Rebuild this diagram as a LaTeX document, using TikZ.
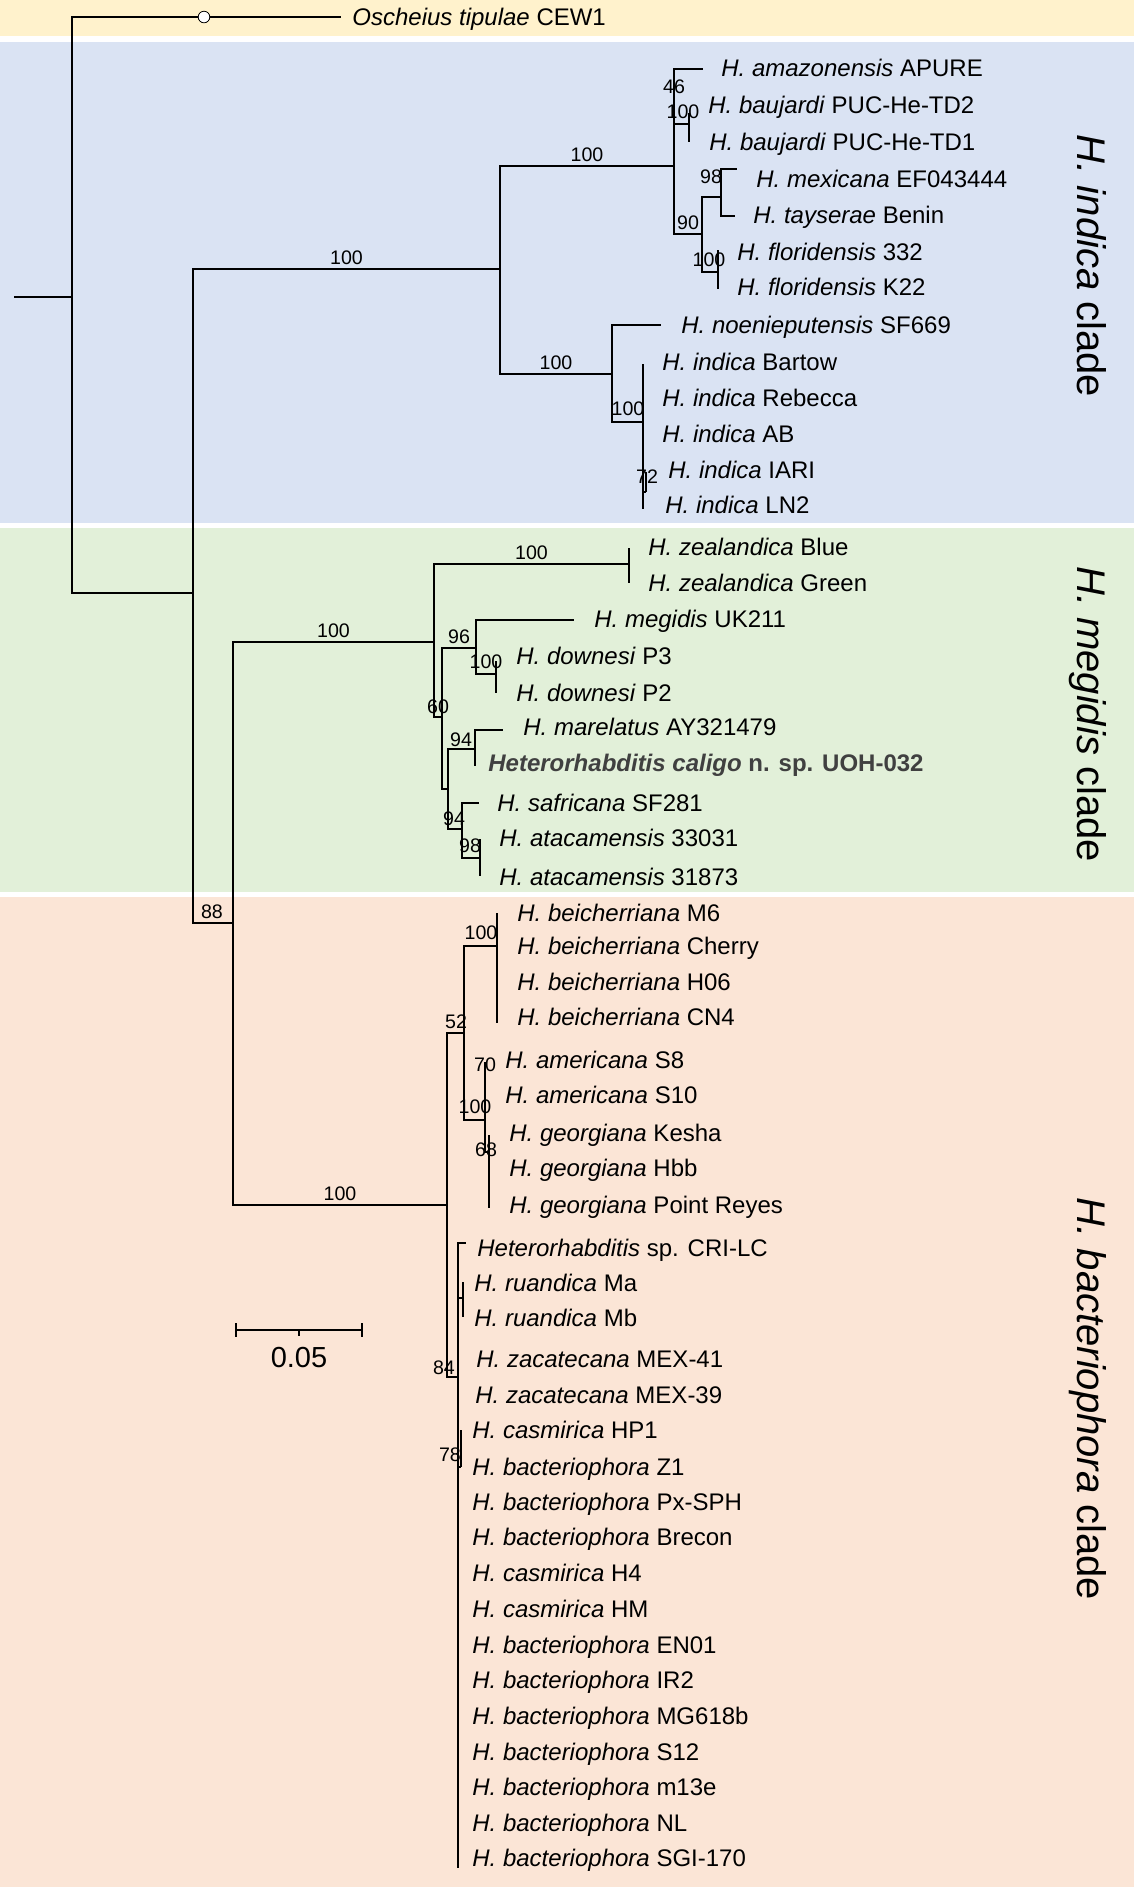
\documentclass[tikz,border=0pt]{standalone}
\usepackage{fontspec}
\setmainfont{Liberation Sans}
\usepackage{tikz}
\usetikzlibrary{positioning}
\definecolor{bandyellow}{HTML}{FFF2CC}
\definecolor{bandblue}{HTML}{DAE3F3}
\definecolor{bandgreen}{HTML}{E2F0D9}
\definecolor{bandpink}{HTML}{FBE5D6}
\definecolor{newsp}{HTML}{404040}

\begin{document}
\begin{tikzpicture}[x=0.5pt,y=-0.5pt]
	\tikzstyle{branch} = [line width=0.7pt]
	\tikzstyle{leaf} = [anchor=west, inner sep=0pt, text height=8.6pt, text depth=0pt, font=\fontsize{12}{14}\selectfont]
	\tikzstyle{boot} = [inner sep=0pt, font=\fontsize{9.8}{11}\selectfont]
	\tikzstyle{clade} = [rotate=-90, inner sep=0pt, text height=14.3pt, text depth=0pt, font=\fontsize{20}{24}\selectfont]
	\tikzstyle{scalebar} = [line width=1.3pt]

	% clade bands
	\fill[white] (0,0) rectangle (1134,1887);
	\fill[bandyellow] (0,0) rectangle (1134,36);
	\fill[bandblue] (0,42) rectangle (1134,523);
	\fill[bandgreen] (0,528) rectangle (1134,892);
	\fill[bandpink] (0,897) rectangle (1134,1887);

	% internal nodes
	\coordinate (stub) at (14,297);
	\coordinate (root) at (72,297);
	\coordinate (ing) at (193,593);
	\coordinate (ind) at (500,269);
	\coordinate (indA) at (674,166);
	\coordinate (bau) at (689,124);
	\coordinate (n90) at (702,234);
	\coordinate (n98) at (721,197);
	\coordinate (flo) at (718,272);
	\coordinate (indB) at (612,374);
	\coordinate (indS) at (643,422);
	\coordinate (n72) at (646,492);
	\coordinate (n88) at (233,923);
	\coordinate (meg) at (434,642);
	\coordinate (zea) at (629,564);
	\coordinate (n60) at (442,717);
	\coordinate (n96) at (476,648);
	\coordinate (dow) at (496,674);
	\coordinate (low) at (448,789);
	\coordinate (n94a) at (475,749);
	\coordinate (n94b) at (462,829);
	\coordinate (ata) at (480,858);
	\coordinate (bac) at (447,1205);
	\coordinate (n52) at (464,1033);
	\coordinate (bei) at (497,946);
	\coordinate (amg) at (485,1120);
	\coordinate (geo) at (489,1152);
	\coordinate (n84) at (458,1377);
	\coordinate (rua) at (463,1298);
	\coordinate (n78) at (461,1467);

	% tip ends
	\coordinate (out) at (341,17);
	\coordinate (amaz) at (703,69);
	\coordinate (bau2) at (689,113);
	\coordinate (bau1) at (689,142);
	\coordinate (mex) at (737,169);
	\coordinate (tay) at (735,216);
	\coordinate (flo1) at (718,250);
	\coordinate (flo2) at (718,289);
	\coordinate (noe) at (661,325);
	\coordinate (bart) at (643,364);
	\coordinate (iari) at (646,472);
	\coordinate (ln2) at (643,509);
	\coordinate (zb) at (629,548);
	\coordinate (zg) at (629,583);
	\coordinate (megi) at (574,620);
	\coordinate (p3) at (496,661);
	\coordinate (p2) at (496,693);
	\coordinate (mar) at (503,730);
	\coordinate (cal) at (475,766);
	\coordinate (saf) at (479,803);
	\coordinate (at1) at (480,839);
	\coordinate (at2) at (480,876);
	\coordinate (m6) at (497,913);
	\coordinate (cn4) at (497,1023);
	\coordinate (s8) at (485,1062);
	\coordinate (kes) at (489,1135);
	\coordinate (pr) at (489,1208);
	\coordinate (cri) at (466,1243);
	\coordinate (ma) at (463,1282);
	\coordinate (mb) at (463,1317);
	\coordinate (hp1) at (461,1430);
	\coordinate (sgi) at (458,1868);

	% branches
	\draw [branch] (stub) -- (root);
	\draw [branch] (root) |- (out) (root) |- (ing);
	\draw [branch] (ing) |- node[boot, above=2pt, pos=0.75]{100} (ind);
	\draw [branch] (ing) |- (n88);
	\draw [branch] (ind) |- node[boot, above=2pt, pos=0.75]{100} (indA);
	\draw [branch] (ind) |- node[boot, above=2pt, pos=0.75]{100} (indB);
	\draw [branch] (indA) |- (amaz) (indA) |- (bau) (indA) |- (n90);
	\draw [branch] (bau) |- (bau2) (bau) |- (bau1);
	\draw [branch] (n90) |- (n98) (n90) |- (flo);
	\draw [branch] (n98) |- (mex) (n98) |- (tay);
	\draw [branch] (flo) |- (flo1) (flo) |- (flo2);
	\draw [branch] (indB) |- (noe) (indB) |- (indS);
	\draw [branch] (indS) |- (bart) (indS) |- (ln2) (indS) |- (n72);
	\draw [branch] (n72) |- (iari);
	\draw [branch] (n88) |- node[boot, above=2pt, pos=0.75]{100} (meg);
	\draw [branch] (n88) |- node[boot, above=2pt, pos=0.75]{100} (bac);
	\draw [branch] (meg) |- node[boot, above=2pt, pos=0.75]{100} (zea);
	\draw [branch] (meg) |- (n60);
	\draw [branch] (zea) |- (zb) (zea) |- (zg);
	\draw [branch] (n60) |- (n96) (n60) |- (low);
	\draw [branch] (n96) |- (megi) (n96) |- (dow);
	\draw [branch] (dow) |- (p3) (dow) |- (p2);
	\draw [branch] (low) |- (n94a) (low) |- (n94b);
	\draw [branch] (n94a) |- (mar) (n94a) |- (cal);
	\draw [branch] (n94b) |- (saf) (n94b) |- (ata);
	\draw [branch] (ata) |- (at1) (ata) |- (at2);
	\draw [branch] (bac) |- (n52) (bac) |- (n84);
	\draw [branch] (n52) |- (bei) (n52) |- (amg);
	\draw [branch] (bei) |- (m6) (bei) |- (cn4);
	\draw [branch] (amg) |- (s8) (amg) |- (geo);
	\draw [branch] (geo) |- (kes) (geo) |- (pr);
	\draw [branch] (n84) |- (cri) (n84) |- (rua) (n84) |- (n78) (n84) |- (sgi);
	\draw [branch] (rua) |- (ma) (rua) |- (mb);
	\draw [branch] (n78) |- (hp1);

	\node [circle, draw, fill=white, inner sep=0pt, minimum size=5.8pt, line width=0.4pt] (og) at (204,17) {};

	% node support
	\node [boot] (b46) at (674,87) {46};
	\node [boot] (bbau) at (683,112) {100};
	\node [boot] (b98) at (711,177) {98};
	\node [boot] (b90) at (688,223) {90};
	\node [boot] (bflo) at (709,260) {100};
	\node [boot] (bind) at (628,409) {100};
	\node [boot] (b72) at (647,477) {72};
	\node [boot] (b60) at (438,707) {60};
	\node [boot] (b96) at (459,637) {96};
	\node [boot] (bdow) at (486,662) {100};
	\node [boot] (b94a) at (461,740) {94};
	\node [boot] (b94b) at (454,819) {94};
	\node [boot] (bata) at (470,846) {98};
	\node [boot] (b88) at (212,912) {88};
	\node [boot] (b52) at (456,1022) {52};
	\node [boot] (bbei) at (481,933) {100};
	\node [boot] (b70) at (485,1065) {70};
	\node [boot] (bamg) at (475,1107) {100};
	\node [boot] (b68) at (486,1150) {68};
	\node [boot] (b84) at (444,1368) {84};
	\node [boot] (b78) at (450,1455) {78};

	% taxa
	\node [leaf] (l_out) at (352,17) {\textit{Oscheius tipulae} CEW1};
	\node [leaf] (l_amaz) at (721,68) {\textit{H. amazonensis} APURE};
	\node [leaf] (l_bau2) at (708,105) {\textit{H. baujardi} PUC-He-TD2};
	\node [leaf] (l_bau1) at (709,142) {\textit{H. baujardi} PUC-He-TD1};
	\node [leaf] (l_mex) at (756,179) {\textit{H. mexicana} EF043444};
	\node [leaf] (l_tay) at (753,215) {\textit{H. tayserae} Benin};
	\node [leaf] (l_flo1) at (737,252) {\textit{H. floridensis} 332};
	\node [leaf] (l_flo2) at (737,287) {\textit{H. floridensis} K22};
	\node [leaf] (l_noe) at (681,325) {\textit{H. noenieputensis} SF669};
	\node [leaf] (l_bart) at (662,362) {\textit{H. indica} Bartow};
	\node [leaf] (l_reb) at (662,398) {\textit{H. indica} Rebecca};
	\node [leaf] (l_ab) at (662,434) {\textit{H. indica} AB};
	\node [leaf] (l_iari) at (668,470) {\textit{H. indica} IARI};
	\node [leaf] (l_ln2) at (665,505) {\textit{H. indica} LN2};
	\node [leaf] (l_zb) at (648,547) {\textit{H. zealandica} Blue};
	\node [leaf] (l_zg) at (648,583) {\textit{H. zealandica} Green};
	\node [leaf] (l_megi) at (594,619) {\textit{H. megidis} UK211};
	\node [leaf] (l_p3) at (516,656) {\textit{H. downesi} P3};
	\node [leaf] (l_p2) at (516,693) {\textit{H. downesi} P2};
	\node [leaf] (l_mar) at (523,727) {\textit{H. marelatus} AY321479};
	\node [leaf, text=newsp] (l_cal) at (488,763) {\textbf{\textit{Heterorhabditis caligo}} \textbf{n. sp. UOH-032}};
	\node [leaf] (l_saf) at (497,803) {\textit{H. safricana} SF281};
	\node [leaf] (l_at1) at (499,838) {\textit{H. atacamensis} 33031};
	\node [leaf] (l_at2) at (499,877) {\textit{H. atacamensis} 31873};
	\node [leaf] (l_m6) at (517,913) {\textit{H. beicherriana} M6};
	\node [leaf] (l_ch) at (517,946) {\textit{H. beicherriana} Cherry};
	\node [leaf] (l_h06) at (517,982) {\textit{H. beicherriana} H06};
	\node [leaf] (l_cn4) at (517,1017) {\textit{H. beicherriana} CN4};
	\node [leaf] (l_s8) at (505,1060) {\textit{H. americana} S8};
	\node [leaf] (l_s10) at (505,1095) {\textit{H. americana} S10};
	\node [leaf] (l_kes) at (509,1133) {\textit{H. georgiana} Kesha};
	\node [leaf] (l_hbb) at (509,1168) {\textit{H. georgiana} Hbb};
	\node [leaf] (l_pr) at (509,1205) {\textit{H. georgiana} Point Reyes};
	\node [leaf] (l_cri) at (477,1248) {\textit{Heterorhabditis} sp. CRI-LC};
	\node [leaf] (l_ma) at (474,1283) {\textit{H. ruandica} Ma};
	\node [leaf] (l_mb) at (474,1318) {\textit{H. ruandica} Mb};
	\node [leaf] (l_m41) at (476,1359) {\textit{H. zacatecana} MEX-41};
	\node [leaf] (l_m39) at (475,1395) {\textit{H. zacatecana} MEX-39};
	\foreach \y/\epi/\strain [count=\i] in {1430/casmirica/HP1, 1467/bacteriophora/Z1, 1502/bacteriophora/Px-SPH, 1537/bacteriophora/Brecon, 1573/casmirica/H4, 1609/casmirica/HM, 1645/bacteriophora/EN01, 1680/bacteriophora/IR2, 1716/bacteriophora/MG618b, 1752/bacteriophora/S12, 1787/bacteriophora/m13e, 1823/bacteriophora/NL, 1858/bacteriophora/SGI-170}
		\node [leaf] (l_b\i) at (472,\y) {\textit{H. \epi} \strain};

	% scale
	\coordinate (sbL) at (236,1330);
	\coordinate (sbM) at (299,1330);
	\coordinate (sbR) at (362,1330);
	\draw [scalebar] (sbL) -- (sbR);
	\draw [scalebar] (sbL) ++(0,-7) -- ++(0,14);
	\draw [scalebar] (sbR) ++(0,-7) -- ++(0,14);
	\draw [scalebar] (sbM) -- ++(0,6);
	\node [inner sep=0pt, font=\fontsize{14.5}{17}\selectfont] (sblab) at (299,1357) {0.05};

	% clades
	\node [clade] (cInd) at (1092,266) {\textit{H. indica} clade};
	\node [clade] (cMeg) at (1092,714) {\textit{H. megidis} clade};
	\node [clade] (cBac) at (1092,1399) {\textit{H. bacteriophora} clade};
\end{tikzpicture}
\end{document}
